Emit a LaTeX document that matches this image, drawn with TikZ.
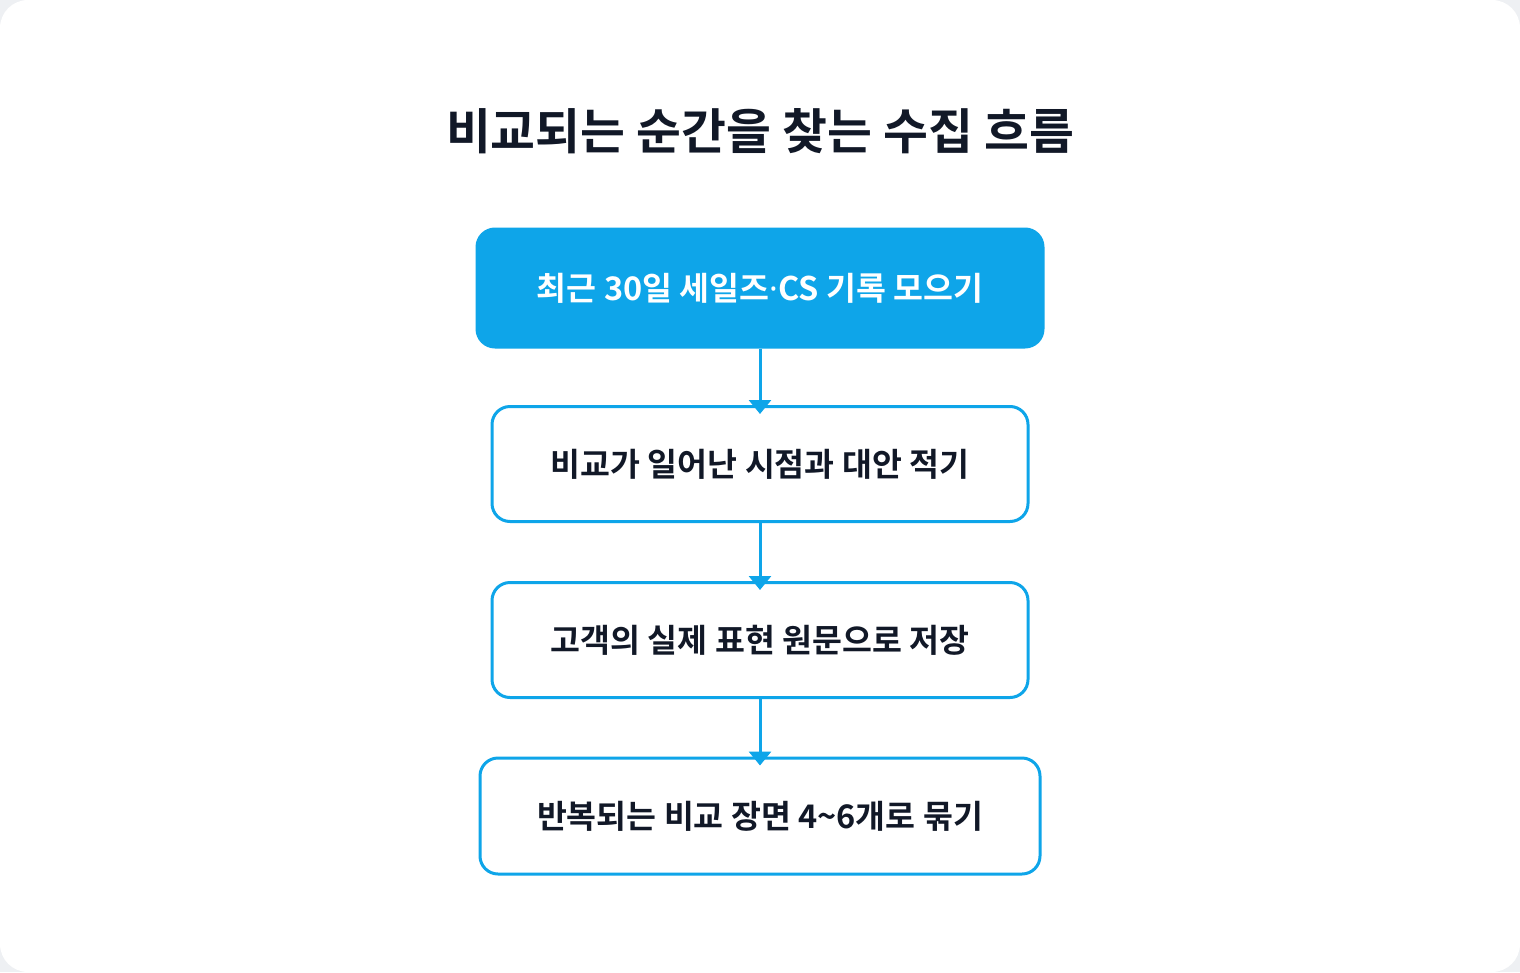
\documentclass[tikz,border=0pt]{standalone}
\usepackage{fontspec}
\newfontfamily\kr{Noto Sans CJK KR Bold}
\newfontfamily\lat{Noto Sans}
\usetikzlibrary{arrows.meta}
\definecolor{sky}{HTML}{0EA5E9}
\definecolor{ink}{HTML}{111827}
\definecolor{outer}{HTML}{EEF0F3}
\newcommand{\lowr}[1]{\raisebox{-2pt}{#1}}
\begin{document}
\begin{tikzpicture}[x=1pt,y=-1pt,
  stepbox/.style={draw=sky,line width=3pt,rounded corners=18pt,fill=white,text=ink,font=\kr\fontsize{32.5}{38}\selectfont,inner sep=0pt},
  topbox/.style={stepbox,fill=sky,text=white},
  flow/.style={draw=sky,line width=3pt,-{Triangle[length=14pt,width=22pt]},shorten >=-9pt}]
\fill[outer] (0,0) rectangle (1520,972);
\fill[white,rounded corners=28pt] (0,0) rectangle (1520,972);
\useasboundingbox (0,0) rectangle (1520,972);
\node[font=\kr\fontsize{48.8}{56}\selectfont,text=ink] (title) at (760,131) {비교되는 순간을 찾는 수집 흐름};
\node[topbox,minimum width=566pt,minimum height=118pt] (b1) at (760,288) {\lowr{최근 30일 세일즈{\lat\bfseries ·}CS 기록 모으기}};
\node[stepbox,minimum width=536pt,minimum height=115pt] (b2) at (760,464) {\lowr{비교가 일어난 시점과 대안 적기}};
\node[stepbox,minimum width=536pt,minimum height=115pt] (b3) at (760,640) {\lowr{고객의 실제 표현 원문으로 저장}};
\node[stepbox,minimum width=560pt,minimum height=116pt] (b4) at (760,816) {\lowr{반복되는 비교 장면 4\textasciitilde6개로 묶기}};
\draw[flow] (b1.south) -- (b2.north);
\draw[flow] (b2.south) -- (b3.north);
\draw[flow] (b3.south) -- (b4.north);
\end{tikzpicture}
\end{document}
